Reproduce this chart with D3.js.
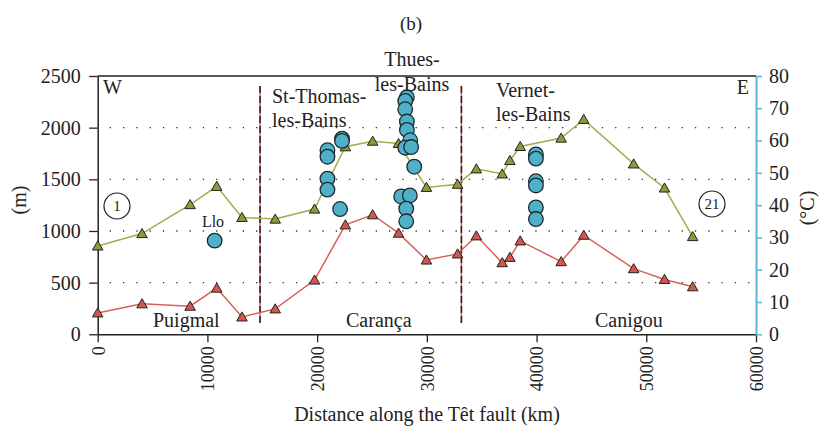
<!DOCTYPE html>
<html><head><meta charset="utf-8">
<script src="https://cdn.jsdelivr.net/npm/d3@7"></script>
<style>
body{margin:0;background:#fff;}
text{font-family:"Liberation Serif","DejaVu Serif",serif;fill:#222;}
</style></head>
<body><svg id="c" width="823" height="432"></svg>
<script>
// ---- data ----
const distance = [0, 4040, 8420, 10850, 13150, 16180, 19760, 22570, 25060, 27420, 29960, 32800, 34510, 36870, 37570, 38510, 42240, 44300, 48850, 51660, 54230];
const upperElevation = [855, 975, 1255, 1432, 1131, 1115, 1212, 1815, 1869, 1847, 1422, 1452, 1601, 1552, 1682, 1818, 1899, 2080, 1649, 1416, 946];
const lowerElevation = [207, 295, 272, 447, 168, 246, 525, 1059, 1157, 979, 719, 778, 953, 693, 745, 904, 703, 959, 635, 531, 460];
const springDistance = [10660,
  20940, 20940, 20940, 20940, 22270, 22270, 22090,
  28180, 28030, 28030, 28180, 28180, 28480, 28030, 28570, 28850, 27660, 28450, 28120, 28120,
  39940, 39940, 39940, 39940, 39940, 39940];
const springTemp = [29,
  57.0, 55.0, 48.2, 44.8, 60.6, 59.9, 38.8,
  73.4, 72.3, 69.7, 65.9, 63.3, 60.1, 57.8, 58.0, 51.9, 42.7, 43.0, 38.9, 35.0,
  55.7, 54.4, 47.4, 46.1, 39.3, 35.7];
const faultDistance = [14800, 33150];
const xTicks = [0, 10000, 20000, 30000, 40000, 50000, 60000];
const yTicksM = [0, 500, 1000, 1500, 2000, 2500];
const yTicksC = [0, 10, 20, 30, 40, 50, 60, 70, 80];
const gridM = [500, 1000, 1500, 2000];

// ---- layout ----
const svg = d3.select("#c");
const L = 97.7, R = 756, T = 76, B = 334.3;
const x = d3.scaleLinear().domain([0, 60000]).range([L, R]);
const yM = d3.scaleLinear().domain([0, 2500]).range([B, T]);
const yC = d3.scaleLinear().domain([0, 80]).range([B, T]);
const blue = "#5bb5d5";

// title
svg.append("text").attr("x", 411).attr("y", 30).attr("text-anchor", "middle").attr("font-size", 19).text("(b)");

// grid
svg.append("g").selectAll("line").data(gridM).join("line")
  .attr("x1", L + 12).attr("x2", R).attr("y1", d => yM(d)).attr("y2", d => yM(d))
  .attr("stroke", "#333").attr("stroke-width", 1.3).attr("stroke-dasharray", "1.3 12");

// top border
svg.append("line").attr("x1", L).attr("x2", R).attr("y1", T).attr("y2", T).attr("stroke", "#222").attr("stroke-width", 1.3);

// axes
const gx = svg.append("g").attr("transform", `translate(0,${B})`)
  .call(d3.axisBottom(x).tickValues(xTicks).tickSize(8).tickSizeOuter(0).tickFormat(d3.format("d")));
gx.selectAll("text").attr("transform", "rotate(-90)").attr("text-anchor", "end")
  .attr("x", -12).attr("y", 0).attr("dy", "0.35em").attr("font-size", 18);
const gl = svg.append("g").attr("transform", `translate(${L},0)`)
  .call(d3.axisLeft(yM).tickValues(yTicksM).tickSize(8.5).tickSizeOuter(0).tickFormat(d3.format("d")));
gl.selectAll("text").attr("font-size", 20).attr("x", -17);
const gr = svg.append("g").attr("transform", `translate(${R},0)`)
  .call(d3.axisRight(yC).tickValues(yTicksC).tickSize(6).tickSizeOuter(0).tickFormat(d3.format("d")));
gr.select(".domain").attr("stroke", blue).attr("stroke-width", 2);
gr.selectAll(".tick line").attr("stroke", blue).attr("stroke-width", 1.5);
gr.selectAll("text").attr("font-size", 20).attr("x", 13);
[gx, gl].forEach(g => { g.select(".domain").attr("stroke", "#222").attr("stroke-width", 1.5); g.selectAll(".tick line").attr("stroke", "#222").attr("stroke-width", 1.3); });
svg.selectAll("g").attr("font-family", null);
svg.selectAll(".tick text").attr("fill", "#222");

// axis titles
svg.append("text").attr("x", 427).attr("y", 421).attr("text-anchor", "middle").attr("font-size", 20).text("Distance along the Têt fault (km)");
svg.append("text").attr("transform", "translate(26,200) rotate(-90)").attr("text-anchor", "middle").attr("font-size", 20).text("(m)");
svg.append("text").attr("transform", "translate(814,208) rotate(-90)").attr("text-anchor", "middle").attr("font-size", 20).text("(°C)");

// fault lines
faultDistance.forEach(d => {
  svg.append("line").attr("x1", x(d)).attr("x2", x(d)).attr("y1", 86).attr("y2", 323).attr("stroke", "#e06060").attr("stroke-width", 1.5);
  svg.append("line").attr("x1", x(d)).attr("x2", x(d)).attr("y1", 86).attr("y2", 323).attr("stroke", "#222").attr("stroke-width", 1.5).attr("stroke-dasharray", "7 3");
});

// lines and triangles
const series = [
  {vals: upperElevation, line: "#a3ad4f", fill: "#8e9a3a"},
  {vals: lowerElevation, line: "#d9605a", fill: "#d2584f"}
];
const tri = d3.symbol().type(d3.symbolTriangle).size(48);
series.forEach(s => {
  const pts = distance.map((d, i) => [d, s.vals[i]]);
  svg.append("path").datum(pts).attr("fill", "none").attr("stroke", s.line).attr("stroke-width", 1.5)
    .attr("d", d3.line().x(p => x(p[0])).y(p => yM(p[1])));
  svg.append("g").selectAll("path").data(pts).join("path")
    .attr("transform", p => `translate(${x(p[0])},${yM(p[1]) + 1})`).attr("d", tri)
    .attr("fill", s.fill).attr("stroke", "#222").attr("stroke-width", 1);
});

// springs
svg.append("g").selectAll("circle").data(springDistance.map((d, i) => [d, springTemp[i]])).join("circle")
  .attr("cx", p => x(p[0])).attr("cy", p => yC(p[1])).attr("r", 7.3)
  .attr("fill", "#4fb0ca").attr("stroke", "#1e2a30").attr("stroke-width", 1.3);

// labels
function lab(t, xx, yy, size, anchor) {
  svg.append("text").attr("x", xx).attr("y", yy).attr("font-size", size).attr("text-anchor", anchor || "start").text(t);
}
lab("W", 103, 94, 20);
lab("E", 749, 94, 20, "end");
lab("St-Thomas-", 272, 103, 20);
lab("les-Bains", 272, 127, 20);
lab("Thues-", 412, 66, 20, "middle");
lab("les-Bains", 412, 91, 20, "middle");
lab("Vernet-", 496, 97, 20);
lab("les-Bains", 496, 121, 20);
lab("Llo", 213, 227, 16, "middle");
lab("Puigmal", 153, 327, 20);
lab("Carança", 346, 327, 20);
lab("Canigou", 595, 327, 20);
[[117, 206, "1"], [712, 204, "21"]].forEach(c => {
  svg.append("circle").attr("cx", c[0]).attr("cy", c[1]).attr("r", 13).attr("fill", "none").attr("stroke", "#222").attr("stroke-width", 1.2);
  svg.append("text").attr("x", c[0]).attr("y", c[1] + 5).attr("text-anchor", "middle").attr("font-size", 15).text(c[2]);
});
</script></body></html>
